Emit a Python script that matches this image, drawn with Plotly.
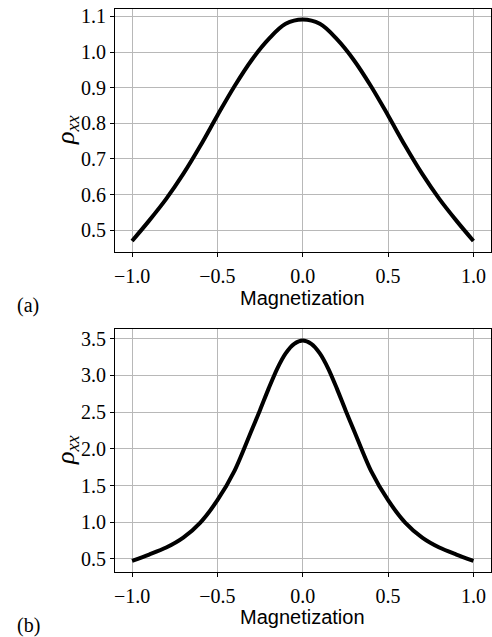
import plotly.graph_objects as go

# ---- data ----
magnetization_a = [-1.0, -0.9, -0.8, -0.7, -0.6, -0.5, -0.4, -0.3, -0.2, -0.1, 0.0,
                   0.1, 0.2, 0.3, 0.4, 0.5, 0.6, 0.7, 0.8, 0.9, 1.0]
rho_a = [0.470, 0.527, 0.588, 0.658, 0.737, 0.822, 0.904, 0.977, 1.036, 1.079, 1.091,
         1.079, 1.036, 0.977, 0.904, 0.822, 0.737, 0.658, 0.588, 0.527, 0.470]

magnetization_b = [-1.0, -0.9, -0.8, -0.7, -0.6, -0.5, -0.4, -0.3, -0.25, -0.2, -0.15, -0.1, -0.05, 0.0,
                   0.05, 0.1, 0.15, 0.2, 0.25, 0.3, 0.4, 0.5, 0.6, 0.7, 0.8, 0.9, 1.0]
rho_b = [0.475, 0.56, 0.655, 0.79, 0.995, 1.30, 1.70, 2.25, 2.53, 2.82, 3.09, 3.30, 3.43, 3.475,
         3.43, 3.30, 3.09, 2.82, 2.53, 2.25, 1.70, 1.30, 0.995, 0.79, 0.655, 0.56, 0.475]

x_ticks = [-1.0, -0.5, 0.0, 0.5, 1.0]
x_tick_labels = ["\u22121.0", "\u22120.5", "0.0", "0.5", "1.0"]
y_ticks_a = [0.5, 0.6, 0.7, 0.8, 0.9, 1.0, 1.1]
y_tick_labels_a = ["0.5", "0.6", "0.7", "0.8", "0.9", "1.0", "1.1"]
y_ticks_b = [0.5, 1.0, 1.5, 2.0, 2.5, 3.0, 3.5]
y_tick_labels_b = ["0.5", "1.0", "1.5", "2.0", "2.5", "3.0", "3.5"]

W, H = 492, 637
SERIF = "Liberation Serif"
SANS = "Liberation Sans"

fig = go.Figure()
fig.add_trace(go.Scatter(x=magnetization_a, y=rho_a, mode="lines",
                         line=dict(color="black", width=4, shape="spline", smoothing=1.0),
                         xaxis="x", yaxis="y", showlegend=False, hoverinfo="skip"))
fig.add_trace(go.Scatter(x=magnetization_b, y=rho_b, mode="lines",
                         line=dict(color="black", width=4, shape="spline", smoothing=0.8),
                         xaxis="x2", yaxis="y2", showlegend=False, hoverinfo="skip"))


def pad_range(vals):
    lo, hi = min(vals), max(vals)
    m = (hi - lo) * 0.05
    return [lo - m, hi + m]


common_axis = dict(showline=True, linecolor="black", linewidth=1, mirror=True,
                   ticks="outside", ticklen=4, tickwidth=1, tickcolor="black",
                   showgrid=True, gridcolor="#b8b8b8", gridwidth=1,
                   zeroline=False, automargin=False,
                   tickfont=dict(family=SERIF, size=20, color="black"))

xdom = [115 / W, 490.5 / W]
fig.update_layout(
    width=W, height=H, autosize=False,
    margin=dict(l=0, r=0, t=0, b=0),
    paper_bgcolor="white", plot_bgcolor="white",
    xaxis=dict(domain=xdom, range=pad_range(magnetization_a), anchor="y",
               tickvals=x_ticks, ticktext=x_tick_labels, ticklabelstandoff=2, **common_axis),
    yaxis=dict(domain=[1 - 252 / H, 1 - 8.7 / H], range=[0.439, 1.1215], anchor="x",
               tickvals=y_ticks_a, ticktext=y_tick_labels_a, **common_axis),
    xaxis2=dict(domain=xdom, range=pad_range(magnetization_b), anchor="y2",
                tickvals=x_ticks, ticktext=x_tick_labels, ticklabelstandoff=2, **common_axis),
    yaxis2=dict(domain=[1 - 572.3 / H, 1 - 328.7 / H], range=[0.318, 3.636], anchor="x2",
                tickvals=y_ticks_b, ticktext=y_tick_labels_b, **common_axis),
)


def ann(text, x_px, y_px, family, size, angle=0):
    fig.add_annotation(text=text, x=x_px / W, y=1 - y_px / H, xref="paper", yref="paper",
                       xanchor="center", yanchor="middle", showarrow=False, textangle=angle,
                       font=dict(family=family, size=size, color="black"))


ann("Magnetization", 302.5, 298, SANS, 20)
ann("Magnetization", 302.5, 617, SANS, 20)
ann("(a)", 28, 305, SERIF, 20)
ann("(b)", 28, 625, SERIF, 20)
ann("<i>\u03c1</i><sub><i>xx</i></sub>", 67, 130, SERIF, 26, angle=-90)
ann("<i>\u03c1</i><sub><i>xx</i></sub>", 67, 450, SERIF, 26, angle=-90)

fig.write_html("out.html", config={"displayModeBar": False},
               post_script="document.body.style.margin='0';")
